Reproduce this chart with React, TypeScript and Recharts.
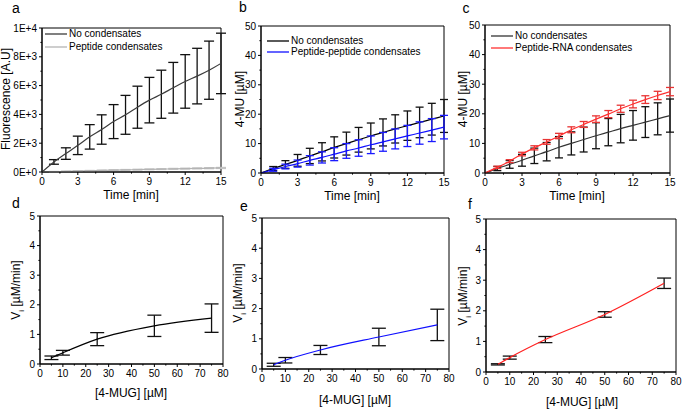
import React from "react";
import { LineChart, Line, XAxis, YAxis, ErrorBar, ReferenceArea } from "recharts";

const FONT = '"Liberation Sans", Arial, Helvetica, sans-serif';

// time courses, panels a-c
const minutes = [0, 1, 2, 3, 4, 5, 6, 7, 8, 9, 10, 11, 12, 13, 14, 15];
const fluoNoCond = [0, 700, 1280, 1850, 2440, 2950, 3500, 3970, 4500, 4990, 5400, 5850, 6290, 6660, 7070, 7540];
const fluoNoCondErr = [0, 160, 400, 640, 850, 1020, 1180, 1350, 1460, 1580, 1670, 1760, 1860, 1930, 2020, 2100];
const fluoPeptide = [0, 25, 45, 70, 90, 110, 130, 150, 165, 185, 200, 220, 235, 250, 265, 280];
const fluoPeptideErr = [0, 10, 12, 14, 16, 18, 20, 22, 24, 25, 27, 28, 30, 32, 34, 35];

const muNoCond = [0, 1.5, 2.9, 4.3, 5.8, 7.2, 8.7, 10.0, 11.3, 12.6, 13.8, 15.0, 16.1, 17.2, 18.3, 19.4];
const muNoCondErr = [0, 0.7, 1.3, 2.0, 2.6, 3.1, 3.6, 3.9, 4.2, 4.4, 4.6, 4.8, 5.0, 5.2, 5.4, 5.6];
const muPepPep = [0, 1.1, 2.2, 3.2, 4.3, 5.3, 6.4, 7.5, 8.5, 9.6, 10.6, 11.6, 12.6, 13.6, 14.6, 15.6];
const muPepPepErr = [0, 0.5, 0.8, 1.2, 1.6, 1.9, 2.2, 2.5, 2.8, 3.0, 3.2, 3.4, 3.6, 3.8, 3.9, 4.0];
const muPepRna = [0, 1.9, 4.0, 6.4, 8.5, 10.5, 12.5, 14.6, 16.4, 18.2, 19.9, 21.7, 23.3, 24.8, 26.2, 27.5];
const muPepRnaErr = [0, 0.4, 0.5, 0.6, 0.7, 0.8, 0.9, 1.0, 1.0, 1.1, 1.2, 1.2, 1.3, 1.3, 1.4, 1.4];

// initial rates, panels d-f
const substrate = [5, 10, 25, 50, 75];
const viNoCond = [0.21, 0.38, 0.84, 1.29, 1.55];
const viNoCondErr = [0.06, 0.08, 0.22, 0.36, 0.48];
const viPepPep = [0.14, 0.29, 0.63, 1.06, 1.46];
const viPepPepErr = [0.05, 0.09, 0.15, 0.29, 0.52];
const viPepRna = [0.25, 0.47, 1.06, 1.88, 2.9];
const viPepRnaErr = [0.02, 0.05, 0.1, 0.09, 0.17];

// ticks (majors get labels, the rest are minor)
const timeTicks = [0, 1.5, 3, 4.5, 6, 7.5, 9, 10.5, 12, 13.5, 15];
const fluoTicks = [0, 1000, 2000, 3000, 4000, 5000, 6000, 7000, 8000, 9000, 10000];
const muTicks = [0, 5, 10, 15, 20, 25, 30, 35, 40, 45, 50];
const substrateTicks = [0, 5, 10, 15, 20, 25, 30, 35, 40, 45, 50, 55, 60, 65, 70, 75, 80];
const viTicks = [0, 0.5, 1, 1.5, 2, 2.5, 3, 3.5, 4, 4.5, 5];

const timeRows = minutes.map((t, i) => ({
  t,
  fNo: fluoNoCond[i],
  fNoErr: fluoNoCondErr[i],
  fPep: fluoPeptide[i],
  fPepErr: fluoPeptideErr[i],
  no: muNoCond[i],
  noErr: muNoCondErr[i],
  pp: muPepPep[i],
  ppErr: muPepPepErr[i],
  rna: muPepRna[i],
  rnaErr: muPepRnaErr[i],
}));

const kinRows = substrate.map((s, i) => ({
  s,
  no: viNoCond[i],
  noErr: viNoCondErr[i],
  pp: viPepPep[i],
  ppErr: viPepPepErr[i],
  rna: viPepRna[i],
  rnaErr: viPepRnaErr[i],
}));

const TICK = 3;
const GAP_X = 2;
const GAP_Y = 2;
const YW = 45;
const XH = 22;
const PAD = 8;
const TICK_FONT = 10;

const isMajor = (v: number, step: number) => Math.abs(v / step - Math.round(v / step)) < 1e-6;

function xTick(step: number) {
  return (p: any) => {
    const { x, y, payload } = p;
    const v = payload.value;
    const major = isMajor(v, step);
    const ay = y - TICK - GAP_X;
    return (
      <g>
        <line x1={x} x2={x} y1={ay} y2={ay + (major ? TICK : 1.6)} stroke="#000" />
        {major && (
          <text x={x} y={y} dy="0.8em" textAnchor="middle" fontSize={TICK_FONT} fontFamily={FONT} fill="#000">
            {v}
          </text>
        )}
      </g>
    );
  };
}

function yTick(step: number, fmt: (v: number) => string) {
  return (p: any) => {
    const { x, y, payload } = p;
    const v = payload.value;
    const major = isMajor(v, step);
    const ax = x + TICK + GAP_Y;
    return (
      <g>
        <line x1={ax} x2={ax - (major ? TICK : 1.6)} y1={y} y2={y} stroke="#000" />
        {major && (
          <text x={x} y={y} dy="0.36em" textAnchor="end" fontSize={TICK_FONT} fontFamily={FONT} fill="#000">
            {fmt(v)}
          </text>
        )}
      </g>
    );
  };
}

const fluoFmt = (v: number) => (v === 0 ? "0E+0" : v === 10000 ? "1E+4" : `${v / 1000}E+3`);
const plainFmt = (v: number) => String(v);

type Series = { key: string; err: string; color: string; errColor: string };

type PlotProps = {
  rect: [number, number, number, number];
  data: any[];
  xKey: string;
  xTicks: number[];
  xStep: number;
  yTicks: number[];
  yStep: number;
  yFmt: (v: number) => string;
  series: Series[];
  cap: number;
};

function Plot({ rect, data, xKey, xTicks, xStep, yTicks, yStep, yFmt, series, cap }: PlotProps) {
  const [l, t, r, b] = rect;
  const xMax = xTicks[xTicks.length - 1];
  const yMax = yTicks[yTicks.length - 1];
  return (
    <div style={{ position: "absolute", left: l - YW, top: t - PAD }}>
      <LineChart
        width={r - l + YW + PAD}
        height={b - t + PAD + XH}
        data={data}
        margin={{ top: PAD, right: PAD, left: 0, bottom: 0 }}
      >
        <XAxis
          dataKey={xKey}
          type="number"
          domain={[0, xMax]}
          ticks={xTicks}
          interval={0}
          tick={xTick(xStep)}
          tickLine={false}
          tickSize={TICK}
          tickMargin={GAP_X}
          axisLine={{ stroke: "#000" }}
          height={XH}
          allowDataOverflow
        />
        <YAxis
          type="number"
          domain={[0, yMax]}
          ticks={yTicks}
          interval={0}
          tick={yTick(yStep, yFmt)}
          tickLine={false}
          tickSize={TICK}
          tickMargin={GAP_Y}
          axisLine={{ stroke: "#000" }}
          width={YW}
          allowDataOverflow
        />
        <ReferenceArea x1={0} x2={xMax} y1={0} y2={yMax} fill="none" stroke="#000" strokeWidth={1} />
        {series.map((s) => (
          <Line
            key={s.key}
            type="monotone"
            dataKey={s.key}
            stroke={s.color}
            strokeWidth={1.2}
            dot={false}
            isAnimationActive={false}
          >
            <ErrorBar dataKey={s.err} width={cap} stroke={s.errColor} strokeWidth={1.3} direction="y" />
          </Line>
        ))}
      </LineChart>
    </div>
  );
}

const txt: React.CSSProperties = {
  position: "absolute",
  fontFamily: FONT,
  color: "#000",
  whiteSpace: "nowrap",
  lineHeight: 1,
};

function Title({ x, y, size = 12, rotate = false, children }: any) {
  return (
    <div
      style={{
        ...txt,
        left: x,
        top: y,
        fontSize: size,
        transform: `translate(-50%, -50%)${rotate ? " rotate(-90deg)" : ""}`,
      }}
    >
      {children}
    </div>
  );
}

function LegendRow({ x, y, color, label }: { x: number; y: number; color: string; label: string }) {
  return (
    <div style={{ ...txt, left: x, top: y - 6, height: 12, display: "flex", alignItems: "center", fontSize: 10 }}>
      <svg width={22} height={4} style={{ display: "block" }}>
        <line x1={0} x2={22} y1={2} y2={2} stroke={color} strokeWidth={1.3} />
      </svg>
      <span style={{ marginLeft: 2 }}>{label}</span>
    </div>
  );
}

const Vi = () => (
  <span>
    V<sub style={{ fontSize: "0.65em" }}>i</sub> [µM/min]
  </span>
);

export default function App() {
  return (
    <div
      style={{
        position: "absolute",
        left: 0,
        top: 0,
        width: 683,
        height: 410,
        overflow: "hidden",
        background: "#fff",
        fontFamily: FONT,
      }}
    >
      {/* a */}
      <Plot
        rect={[42, 28, 221, 172]}
        data={timeRows}
        xKey="t"
        xTicks={timeTicks}
        xStep={3}
        yTicks={fluoTicks}
        yStep={2000}
        yFmt={fluoFmt}
        cap={5}
        series={[
          { key: "fNo", err: "fNoErr", color: "#3c3c3c", errColor: "#111" },
          { key: "fPep", err: "fPepErr", color: "#b4b4b4", errColor: "#c4c4c4" },
        ]}
      />
      {/* b */}
      <Plot
        rect={[261, 26, 444, 173]}
        data={timeRows}
        xKey="t"
        xTicks={timeTicks}
        xStep={3}
        yTicks={muTicks}
        yStep={10}
        yFmt={plainFmt}
        cap={4}
        series={[
          { key: "no", err: "noErr", color: "#000", errColor: "#111" },
          { key: "pp", err: "ppErr", color: "#1010ff", errColor: "#1a1aff" },
        ]}
      />
      {/* c */}
      <Plot
        rect={[485, 25, 670, 173]}
        data={timeRows}
        xKey="t"
        xTicks={timeTicks}
        xStep={3}
        yTicks={muTicks}
        yStep={10}
        yFmt={plainFmt}
        cap={4}
        series={[
          { key: "no", err: "noErr", color: "#333", errColor: "#111" },
          { key: "rna", err: "rnaErr", color: "#ff3030", errColor: "#e83535" },
        ]}
      />
      {/* d */}
      <Plot
        rect={[40, 216, 223, 364]}
        data={kinRows}
        xKey="s"
        xTicks={substrateTicks}
        xStep={10}
        yTicks={viTicks}
        yStep={1}
        yFmt={plainFmt}
        cap={7}
        series={[{ key: "no", err: "noErr", color: "#000", errColor: "#111" }]}
      />
      {/* e */}
      <Plot
        rect={[262, 218, 449, 369]}
        data={kinRows}
        xKey="s"
        xTicks={substrateTicks}
        xStep={10}
        yTicks={viTicks}
        yStep={1}
        yFmt={plainFmt}
        cap={7}
        series={[{ key: "pp", err: "ppErr", color: "#1010ff", errColor: "#111" }]}
      />
      {/* f */}
      <Plot
        rect={[486, 219, 676, 372]}
        data={kinRows}
        xKey="s"
        xTicks={substrateTicks}
        xStep={10}
        yTicks={viTicks}
        yStep={1}
        yFmt={plainFmt}
        cap={7}
        series={[{ key: "rna", err: "rnaErr", color: "#ff2020", errColor: "#111" }]}
      />

      <LegendRow x={45} y={34} color="#3c3c3c" label="No condensates" />
      <LegendRow x={45} y={47} color="#b4b4b4" label="Peptide condensates" />
      <LegendRow x={267} y={41} color="#000" label="No condensates" />
      <LegendRow x={267} y={52} color="#1010ff" label="Peptide-peptide condensates" />
      <LegendRow x={491} y={36} color="#333" label="No condensates" />
      <LegendRow x={491} y={48} color="#ff3030" label="Peptide-RNA condensates" />

      <Title x={6} y={99} rotate>Fluorescence [A.U]</Title>
      <Title x={131} y={195}>Time [min]</Title>
      <Title x={240} y={99} rotate>4-MU [µM]</Title>
      <Title x={352} y={196}>Time [min]</Title>
      <Title x={463} y={99} rotate>4-MU [µM]</Title>
      <Title x={577} y={196}>Time [min]</Title>
      <Title x={18} y={290} rotate><Vi /></Title>
      <Title x={131} y={393}>[4-MUG] [µM]</Title>
      <Title x={240} y={293} rotate><Vi /></Title>
      <Title x={355} y={400}>[4-MUG] [µM]</Title>
      <Title x={465} y={296} rotate><Vi /></Title>
      <Title x={582} y={402}>[4-MUG] [µM]</Title>

      <Title x={16} y={8} size={14}>a</Title>
      <Title x={243} y={7} size={14}>b</Title>
      <Title x={466} y={8} size={14}>c</Title>
      <Title x={16} y={203} size={14}>d</Title>
      <Title x={244} y={206} size={14}>e</Title>
      <Title x={470} y={204} size={14}>f</Title>
    </div>
  );
}
